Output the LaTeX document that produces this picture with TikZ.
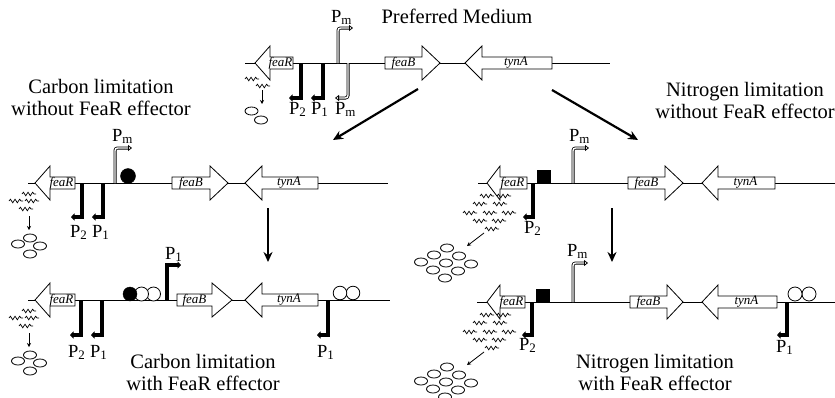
\documentclass[tikz,border=0pt]{standalone}
\usepackage{fontspec}
\setmainfont{Liberation Serif}
\usetikzlibrary{arrows.meta,decorations.pathmorphing}

\tikzset{
 dna/.style={line width=0.8pt},
 gene/.style={draw, fill=white, line width=0.8pt, line join=miter},
 genelabel/.style={font=\fontsize{13}{14}\selectfont\itshape, inner sep=0pt},
 prom/.style={line width=3.2pt, -{Triangle[length=3.5pt,width=7pt]}},
 promd/.style={double, double distance=1.4pt, line width=0.8pt, rounded corners=2.5pt, -{Triangle[open,length=4pt,width=6pt]}},
 plabel/.style={font=\fontsize{18.5}{19}\selectfont, inner sep=0pt, anchor=base west},
 title/.style={font=\fontsize{20.5}{22}\selectfont, inner sep=0pt, anchor=base},
 bigarrow/.style={line width=2.2pt, -{Stealth[length=10pt,width=9pt]}},
 smallarrow/.style={line width=0.8pt, -{Stealth[length=4pt,width=4pt]}},
 squig/.style={line width=0.7pt, decorate, decoration={snake, segment length=4.6pt, amplitude=1.8pt}},
 oval/.style={draw, fill=white, line width=0.8pt},
 fbox/.style={draw, fill=black, line width=0.6pt},
}

% left-pointing gene: tip x, line y, head-base x, end x, label, name
\newcommand{\genel}[6]{%
 \draw[gene] (#1,#2) -- (#3,#2-17) -- (#3,#2-6) -- (#4,#2-6) -- (#4,#2+6) -- (#3,#2+6) -- (#3,#2+17) -- cycle;
 \node[genelabel] (#6) at ({(#3+#4)/2-1},#2) {#5};}
% right-pointing gene: start x, line y, head-base x, tip x, label, name
\newcommand{\gener}[6]{%
 \draw[gene] (#1,#2-6) -- (#3,#2-6) -- (#3,#2-17) -- (#4,#2) -- (#3,#2+17) -- (#3,#2+6) -- (#1,#2+6) -- cycle;
 \node[genelabel] (#6) at ({(#1+#3)/2},#2) {#5};}
% carbon-type squiggles, arrow and 4 ovals below feaR (line y)
\newcommand{\carbsq}[1]{%
 \draw[squig] (22,#1+11) -- ++(14,0);
 \draw[squig] (9,#1+18) -- ++(14,0);
 \draw[squig] (25,#1+18) -- ++(14,0);
 \draw[squig] (19,#1+26) -- ++(14,0);
 \draw[smallarrow] (29,#1+33) -- (29,#1+47);
 \foreach \p in {(30,#1+55),(18,#1+61),(40,#1+63),(30,#1+71)}
   \draw[oval] \p ellipse [x radius=6.5pt, y radius=4pt];}
% nitrogen-type squiggles, arrow and oval cluster (line y)
\newcommand{\nitsq}[1]{%
 \foreach \x/\d in {480/13,497/13,473/21,493/21,463/30,483/30,502/30,473/38,492/38,485/46}
   \draw[squig] (\x,#1+\d) -- ++(14,0);
 \draw[smallarrow] (484,#1+50) -- (467,#1+63);
 \foreach \i in {0,1,2}
  \foreach \j in {0,1,2}
   \draw[oval] ({421+13*\i+12*\j},{#1+79-7*\i+8*\j}) ellipse [x radius=6.5pt, y radius=4pt];}

\begin{document}
\begin{tikzpicture}[x=1pt,y=-1pt]
\useasboundingbox (0,0) rectangle (835,397);

% ---------------- Preferred medium (top) ----------------
\node[title] (tpref) at (457,23) {Preferred Medium};
\draw[dna] (245,63) -- (610,63);
\draw[prom] (301,63) |- (289,98);
\draw[prom] (323,63) |- (311,98);
\draw[promd] (348,63) |- (335,98);
\draw[promd] (338,63) |- (353,28);
\genel{255}{63}{270}{293}{feaR}{g0r}
\gener{385}{63}{422}{440}{feaB}{g0b}
\genel{465}{63}{482}{552}{tynA}{g0t}
\node[plabel] (p0a) at (289,114) {P\textsubscript{2}};
\node[plabel] (p0b) at (311,114) {P\textsubscript{1}};
\node[plabel] (p0c) at (335,114) {P\textsubscript{m}};
\node[plabel] (p0d) at (331,22) {P\textsubscript{m}};
\draw[squig] (245,79) -- ++(14,0);
\draw[squig] (256,86) -- ++(14,0);
\draw[smallarrow] (262,90) -- (262,104);
\draw[oval] (251.5,111) ellipse [x radius=6.5pt, y radius=4pt];
\draw[oval] (261,120) ellipse [x radius=6.5pt, y radius=4pt];

% panel arrows
\coordinate (a1s) at (418,89);
\coordinate (a1e) at (333,140);
\coordinate (a2s) at (552,90);
\coordinate (a2e) at (638,140);
\coordinate (a3s) at (268,208);
\coordinate (a3e) at (268,262);
\coordinate (a4s) at (612,208);
\coordinate (a4e) at (612,262);
\draw[bigarrow] (a1s) -- (a1e);
\draw[bigarrow] (a2s) -- (a2e);
\draw[bigarrow] (a3s) -- (a3e);
\draw[bigarrow] (a4s) -- (a4e);

% ---------------- Carbon limitation without effector ----------------
\node[title] (tc1a) at (101,93) {Carbon limitation};
\node[title] (tc1b) at (101,115) {without FeaR effector};
\draw[dna] (28,183) -- (388,183);
\draw[prom] (82,183) |- (71,217);
\draw[prom] (103,183) |- (92,217);
\draw[promd] (115,183) |- (132,148);
\genel{35}{183}{50}{75}{feaR}{g1r}
\gener{172}{183}{210}{228}{feaB}{g1b}
\genel{245}{183}{262}{318}{tynA}{g1t}
\draw[fill=black] (128,176) circle [radius=7.5pt];
\node[plabel] (p1a) at (70,237) {P\textsubscript{2}};
\node[plabel] (p1b) at (92,237) {P\textsubscript{1}};
\node[plabel] (p1c) at (112,141) {P\textsubscript{m}};
\carbsq{183}

% ---------------- Carbon limitation with effector ----------------
\node[title] (tc2a) at (203,368) {Carbon limitation};
\node[title] (tc2b) at (203,390) {with FeaR effector};
\draw[dna] (28,300) -- (390,300);
\draw[prom] (81,300) |- (70,335);
\draw[prom] (102,300) |- (91,335);
\draw[prom] (167,300) |- (181,265);
\draw[prom] (328,300) |- (317,335);
\genel{35}{300}{50}{75}{feaR}{g2r}
\gener{177}{300}{212}{232}{feaB}{g2b}
\genel{245}{300}{262}{318}{tynA}{g2t}
\draw[oval] (153.5,294) circle [radius=7pt];
\draw[oval] (141.5,294) circle [radius=7pt];
\draw[fill=black] (130,294) circle [radius=7pt];
\draw[oval] (353,293) circle [radius=6.8pt];
\draw[oval] (340,293) circle [radius=6.8pt];
\node[plabel] (p2a) at (68,357) {P\textsubscript{2}};
\node[plabel] (p2b) at (90,357) {P\textsubscript{1}};
\node[plabel] (p2c) at (165,259) {P\textsubscript{1}};
\node[plabel] (p2d) at (317,357) {P\textsubscript{1}};
\carbsq{300}

% ---------------- Nitrogen limitation without effector ----------------
\node[title] (tn1a) at (745,96) {Nitrogen limitation};
\node[title] (tn1b) at (745,118) {without FeaR effector};
\draw[dna] (478,183) -- (835,183);
\draw[prom] (533,183) |- (523,217);
\draw[promd] (573,183) |- (589,148);
\genel{487}{183}{500}{527}{feaR}{g3r}
\gener{628}{183}{665}{683}{feaB}{g3b}
\genel{702}{183}{718}{775}{tynA}{g3t}
\draw[fbox] (537,170) rectangle (550,183);
\node[plabel] (p3a) at (524,233) {P\textsubscript{2}};
\node[plabel] (p3b) at (569,141) {P\textsubscript{m}};
\nitsq{183}

% ---------------- Nitrogen limitation with effector ----------------
\node[title] (tn2a) at (655,368) {Nitrogen limitation};
\node[title] (tn2b) at (655,390) {with FeaR effector};
\draw[dna] (477,302) -- (835,302);
\draw[prom] (532,302) |- (522,335);
\draw[promd] (573,302) |- (588,263);
\draw[prom] (787,302) |- (777,335);
\genel{487}{302}{500}{525}{feaR}{g4r}
\gener{630}{302}{667}{683}{feaB}{g4b}
\genel{702}{302}{718}{777}{tynA}{g4t}
\draw[fbox] (536,289) rectangle (549,302);
\draw[oval] (809,294) circle [radius=7pt];
\draw[oval] (795,294) circle [radius=7pt];
\node[plabel] (p4a) at (519,350) {P\textsubscript{2}};
\node[plabel] (p4b) at (567,256) {P\textsubscript{m}};
\node[plabel] (p4c) at (776,352) {P\textsubscript{1}};
\nitsq{302}
\end{tikzpicture}
\end{document}
